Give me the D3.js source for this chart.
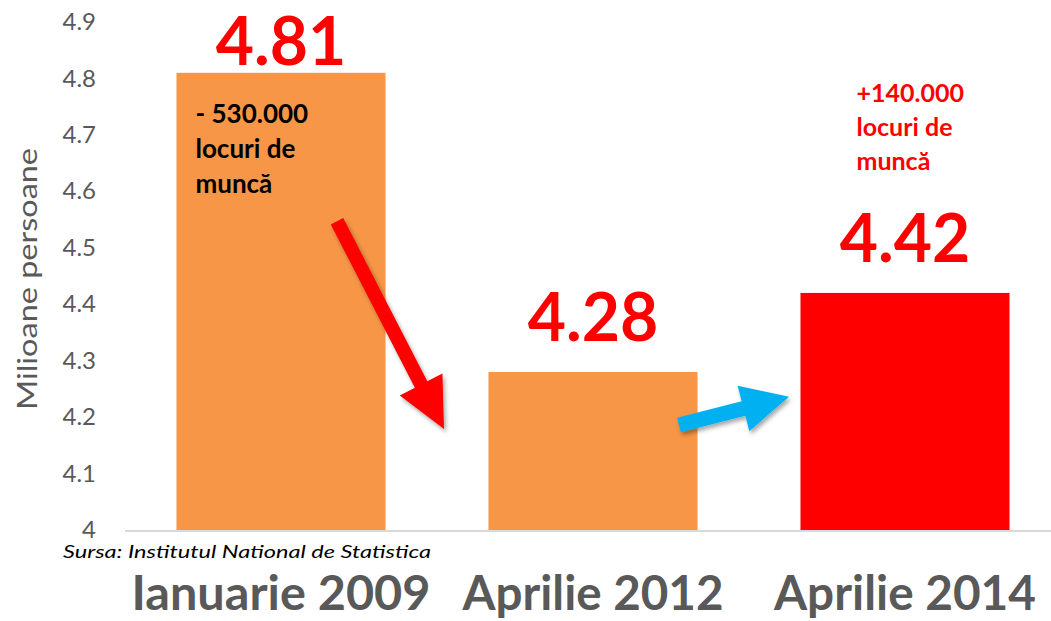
<!DOCTYPE html>
<html>
<head>
<meta charset="utf-8">
<script src="https://cdn.jsdelivr.net/npm/d3@7"></script>
<style>
body { margin: 0; background: #fff; }
svg { display: block; font-family: Lato, "Open Sans", sans-serif; }
</style>
</head>
<body>
<div id="chart"></div>
<script>
//Datos
const categories = ['Ianuarie 2009', 'Aprilie 2012', 'Aprilie 2014'];
const values = [4.81, 4.28, 4.42];
const valueLabels = ['4.81', '4.28', '4.42'];
const yTicks = [4, 4.1, 4.2, 4.3, 4.4, 4.5, 4.6, 4.7, 4.8, 4.9];
const yTickLabels = ['4', '4.1', '4.2', '4.3', '4.4', '4.5', '4.6', '4.7', '4.8', '4.9'];
const noteLoss = ['- 530.000', 'locuri de', 'muncă'];
const noteGain = ['+140.000', 'locuri de', 'muncă'];

//Colores
const COLOR_ORANGE = '#F79646',
    COLOR_RED = '#FF0000',
    COLOR_BLUE = '#00B0F0',
    COLOR_TEXT = '#595959',
    COLOR_AXIS = '#D9D9D9';

const width = 1051, height = 621;

const svg = d3.select('#chart')
    .append('svg')
    .attr('width', width)
    .attr('height', height);

let defs = svg.append('defs');
let shadow = defs.append('filter').attr('id', 'shadow')
    .attr('x', '-20%').attr('y', '-20%').attr('width', '140%').attr('height', '140%');
shadow.append('feDropShadow')
    .attr('dx', 2).attr('dy', 3).attr('stdDeviation', 2)
    .attr('flood-color', '#000').attr('flood-opacity', 0.35);

//Eje X
let x = d3.scaleBand()
    .domain(categories)
    .range([125, 1061])
    .paddingInner(0.33)
    .paddingOuter(0.165);

//Eje Y
let y = d3.scaleLinear()
    .domain([4, 4.9])
    .range([530, 22]);

//Etiquetas eje Y
svg.append('g')
    .selectAll('text')
    .data(yTicks)
    .enter()
    .append('text')
    .attr('x', 96)
    .attr('y', d => y(d))
    .attr('dy', '0.34em')
    .attr('text-anchor', 'end')
    .attr('fill', COLOR_TEXT)
    .style('font-size', '24px')
    .text((d, i) => yTickLabels[i]);

svg.append('text')
    .attr('transform', 'translate(37,' + 279 + ') rotate(-90)')
    .attr('text-anchor', 'middle')
    .attr('fill', COLOR_TEXT)
    .attr('textLength', 262)
    .attr('lengthAdjust', 'spacingAndGlyphs')
    .style('font-size', '27px')
    .text('Milioane persoane');

//Barras
svg.append('g')
    .selectAll('rect')
    .data(values)
    .enter()
    .append('rect')
    .attr('x', (d, i) => x(categories[i]))
    .attr('y', d => y(d))
    .attr('width', x.bandwidth())
    .attr('height', d => y(4) - y(d))
    .attr('fill', (d, i) => i === 2 ? COLOR_RED : COLOR_ORANGE);

//Línea base
svg.append('line')
    .attr('x1', 125).attr('x2', width)
    .attr('y1', y(4) + 1).attr('y2', y(4) + 1)
    .attr('stroke', COLOR_AXIS)
    .attr('stroke-width', 2);

//Valores
svg.append('g')
    .selectAll('text')
    .data(values)
    .enter()
    .append('text')
    .attr('x', (d, i) => x(categories[i]) + x.bandwidth() / 2)
    .attr('y', d => Math.max(y(d) - 31, 65))
    .attr('text-anchor', 'middle')
    .attr('fill', COLOR_RED)
    .style('font-size', '66px')
    .style('font-weight', 700)
    .text((d, i) => valueLabels[i]);

//Notas
function drawNote(lines, cat, dx, val, color, size, gap) {
    let t = svg.append('text')
        .attr('fill', color)
        .style('font-size', size + 'px')
        .style('font-weight', 700);
    lines.forEach(function(line, i) {
        t.append('tspan')
            .attr('x', x(cat) + dx)
            .attr('y', y(val) + i * gap)
            .text(line);
    });
}
drawNote(noteLoss, categories[0], 19, 4.721, '#000', 26, 35);
drawNote(noteGain, categories[2], 56, 4.758, COLOR_RED, 25, 34);

//Flechas
function arrowPath(x0, y0, x1, y1, shaft, headW, headL) {
    let dx = x1 - x0, dy = y1 - y0, len = Math.sqrt(dx * dx + dy * dy);
    let ux = dx / len, uy = dy / len, nx = -uy, ny = ux;
    let bx = x1 - ux * headL, by = y1 - uy * headL;
    let pts = [
        [x0 + nx * shaft / 2, y0 + ny * shaft / 2],
        [bx + nx * shaft / 2, by + ny * shaft / 2],
        [bx + nx * headW / 2, by + ny * headW / 2],
        [x1, y1],
        [bx - nx * headW / 2, by - ny * headW / 2],
        [bx - nx * shaft / 2, by - ny * shaft / 2],
        [x0 - nx * shaft / 2, y0 - ny * shaft / 2]
    ];
    return 'M' + pts.map(p => p.join(',')).join('L') + 'Z';
}
function center(cat) { return x(cat) + x.bandwidth() / 2; }

svg.append('path')
    .attr('d', arrowPath(center(categories[0]) + 56, y(4.547), center(categories[0]) + 163, y(4.179), 14, 48, 50))
    .attr('fill', COLOR_RED)
    .attr('filter', 'url(#shadow)');

svg.append('path')
    .attr('d', arrowPath(center(categories[1]) + 86, y(4.186), center(categories[1]) + 196, y(4.236), 15, 47, 47))
    .attr('fill', COLOR_BLUE)
    .attr('filter', 'url(#shadow)');

//Fuente
svg.append('text')
    .attr('x', 63)
    .attr('y', 558)
    .attr('fill', '#000')
    .attr('textLength', 368)
    .attr('lengthAdjust', 'spacingAndGlyphs')
    .style('font-size', '18px')
    .style('font-style', 'italic')
    .text('Sursa: Institutul National de Statistica');

//Categorías
const catWidths = [299, 261, 262];
svg.append('g')
    .selectAll('text')
    .data(categories)
    .enter()
    .append('text')
    .attr('x', d => center(d))
    .attr('y', 610)
    .attr('text-anchor', 'middle')
    .attr('fill', COLOR_TEXT)
    .attr('textLength', (d, i) => catWidths[i])
    .attr('lengthAdjust', 'spacingAndGlyphs')
    .style('font-size', '47px')
    .style('font-weight', 700)
    .text(d => d);
</script>
</body>
</html>
